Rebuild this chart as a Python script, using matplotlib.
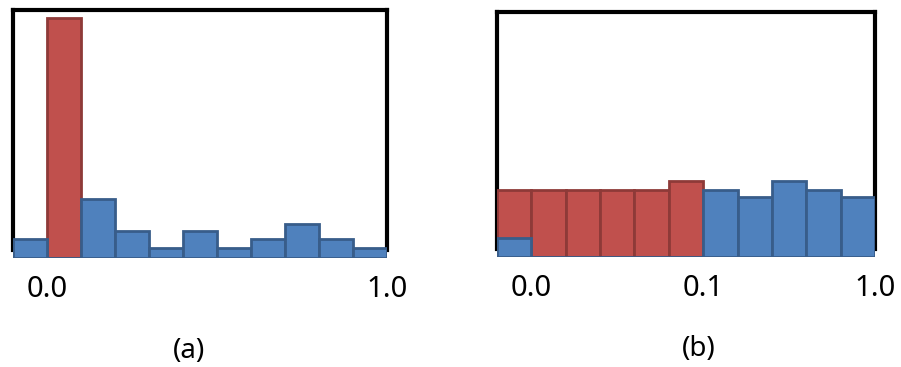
import numpy as np
from matplotlib import pyplot as plt

# histogram bins (11 bins)
a_red = [0, 240, 0, 0, 0, 0, 0, 0, 0, 0, 0]
a_blue = [19, 0, 59, 27, 10, 27, 10, 19, 34, 19, 10]
b_red = [67, 67, 67, 67, 67, 76, 0, 0, 0, 0, 0]
b_blue = [19, 0, 0, 0, 0, 0, 67, 60, 76, 67, 60]

a_ticks = [1, 11]
a_labels = ['0.0', '1.0']
b_ticks = [1, 6, 11]
b_labels = ['0.0', '0.1', '1.0']

RED, RED_EDGE = '#C0504D', '#8E3A38'
BLUE, BLUE_EDGE = '#4F81BD', '#385D8A'

plt.rcParams['font.family'] = ['Noto Sans', 'DejaVu Sans']

fig = plt.figure(figsize=(9.01, 3.67), dpi=100)
ax_a = fig.add_axes([13/901, 1-258/367, 374/901, 248/367])
ax_b = fig.add_axes([497/901, 1-257/367, 378/901, 245/367])


def draw_hist(ax, red, blue, ylim, ticks, labels, caption, cap_x):
    x = np.arange(len(red))
    ax.bar(x, red, width=1, align='edge', color=RED, edgecolor=RED_EDGE,
           linewidth=2, zorder=3)
    ax.bar(x, blue, width=1, align='edge', color=BLUE, edgecolor=BLUE_EDGE,
           linewidth=2, zorder=4)
    ax.set_xlim(0, len(red))
    ax.set_ylim(0, ylim)
    ax.set_yticks([])
    ax.set_xticks(ticks)
    ax.set_xticklabels(labels, fontsize=21)
    ax.tick_params(axis='x', length=0, pad=12)
    for s in ['top', 'left', 'right']:
        ax.spines[s].set_linewidth(3)
        ax.spines[s].set_color('black')
    # side lines stop at the bars, no stub below the baseline
    ax.spines['left'].set_bounds(8, ylim)
    ax.spines['right'].set_bounds(8, ylim)
    ax.spines['bottom'].set_visible(False)
    # caption below the panel
    ax.text(cap_x, -0.375, caption, transform=ax.transAxes,
            ha='center', va='center', fontsize=20)


draw_hist(ax_a, a_red, a_blue, 248, a_ticks, a_labels, '(a)', 0.47)
draw_hist(ax_b, b_red, b_blue, 245, b_ticks, b_labels, '(b)', 0.535)

fig.savefig('out.png', dpi=100)
